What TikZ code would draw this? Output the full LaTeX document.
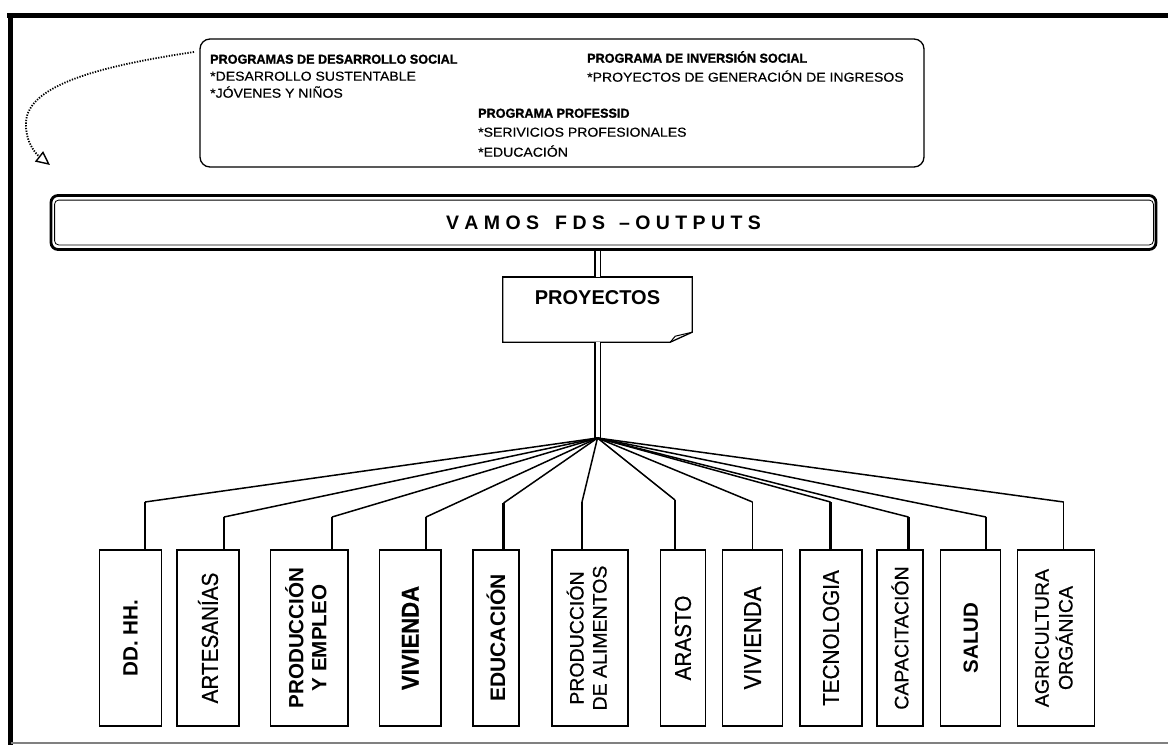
\documentclass[tikz,border=0pt]{standalone}
\usepackage{graphicx}
\usepackage{fontspec}
\setmainfont{Liberation Sans}
\newfontfamily\narrowfont[FakeStretch=0.9,FakeBold=0.6]{Liberation Sans}
\newfontfamily\regfont[FakeBold=0.5]{Liberation Sans}
\newfontfamily\topfont[FakeStretch=1.08,FakeBold=0.4]{Liberation Sans}
\newfontfamily\topbfont[FakeStretch=0.97,FakeBold=1.2]{Liberation Sans}
\usetikzlibrary{arrows.meta,calc}
\newcommand\myfs[1]{\fontsize{#1}{#1}\selectfont}
\newcommand\rotB[2]{\rotatebox{90}{\myfs{#1}\bfseries #2}}
\newcommand\rotN[2]{\rotatebox{90}{\narrowfont\myfs{#1}#2}}
\newcommand\rotNB[2]{\rotatebox{90}{\narrowfont\myfs{#1}\bfseries #2}}
\newcommand\rotR[2]{\rotatebox{90}{\regfont\myfs{#1}#2}}
\newcommand\rotBB[3]{\rotatebox{90}{\fontsize{#1}{23}\selectfont\bfseries\begin{tabular}{@{}c@{}}#2\\#3\end{tabular}}}
\newcommand\rotRR[3]{\rotatebox{90}{\regfont\fontsize{#1}{23}\selectfont\begin{tabular}{@{}c@{}}#2\\#3\end{tabular}}}
\begin{document}
\begin{tikzpicture}[x=1pt,y=-1pt,
  box/.style={draw, line width=1.3pt, inner sep=0pt, minimum height=176pt},
  fan/.style={line width=1.5pt},
  stubthin/.style={line width=1.2pt},
  stubthick/.style={line width=2.4pt},
  dbl/.style={double, double distance=4pt, line width=1.1pt},
  toptxt/.style={anchor=base west, inner sep=0pt, font={\topfont\myfs{13}}},
  topbold/.style={anchor=base west, inner sep=0pt, font={\topbfont\bfseries\myfs{13}}},
]
\useasboundingbox (0,0) rectangle (1168,745);
\fill[white] (0,0) rectangle (1168,745);
% frame
\draw[line width=5.5pt] (7,15.5) -- (1168,15.5);
\draw[line width=5pt] (10.8,13) -- (10.8,745);
\draw[gray, line width=1.5pt] (10.8,743) -- (1168,743);

% top programme box
\node[draw, line width=1.3pt, rounded corners=10pt, minimum width=724pt, minimum height=128pt, inner sep=0pt] (progs) at (562,103) {};
\node[topbold] (t1) at (210,63.7) {PROGRAMAS DE DESARROLLO SOCIAL};
\node[toptxt] (t2) at (210,80.7) {*DESARROLLO SUSTENTABLE};
\node[toptxt] (t3) at (210,97.7) {*JÓVENES Y NIÑOS};
\node[topbold] (t4) at (587,62.7) {PROGRAMA DE INVERSIÓN SOCIAL};
\node[toptxt] (t5) at (587,81.7) {*PROYECTOS DE GENERACIÓN DE INGRESOS};
\node[topbold] (t6) at (478,117.7) {PROGRAMA PROFESSID};
\node[toptxt] (t7) at (478,136.7) {*SERIVICIOS PROFESIONALES};
\node[toptxt] (t8) at (478,156.7) {*EDUCACIÓN};

% dotted arrow
\coordinate (arrs) at (194,52);
\coordinate (arre) at (50,165);
\draw[line width=1.8pt, dash pattern=on 1.3pt off 1.4pt, -{Triangle[open,length=14pt,width=13pt,line width=1.4pt]}]
  (arrs) .. controls (100,66) and (28,85) .. (26,122) .. controls (25,142) and (36,154) .. (arre);

% bar
\node[draw, line width=2.8pt, rounded corners=7pt, minimum width=1105pt, minimum height=54pt, inner sep=0pt, font={\bfseries\myfs{19.5}}] (bar) at (603.5,222.5) {V A M O S\hspace{16pt}F D S\hspace{14pt}– O U T P U T S};
\draw[line width=0.8pt, rounded corners=4pt] ($(bar.north west)+(5,6)$) rectangle ($(bar.south east)+(-4,-6)$);
\draw[line width=3pt] ($(bar.south west)+(8,-1)$) -- ($(bar.south east)+(-8,-1)$);

% proyectos
\node[minimum width=189pt, minimum height=65pt, inner sep=0pt] (proy) at (597.5,309.5) {};
\node[inner sep=0pt, font={\bfseries\myfs{20}}] (proyt) at (597.5,298) {PROYECTOS};
\draw[line width=1.3pt] (proy.north west) -- (proy.north east) -- ($(proy.south east)+(0,-10)$) -- ($(proy.south east)+(-22,0)$) -- (proy.south west) -- cycle;
\draw[line width=1pt] ($(proy.south east)+(0,-10)$) -- ($(proy.south east)+(-17,-6)$) -- ($(proy.south east)+(-22,0)$);
\draw[line width=2pt] (proy.north west) -- (proy.north east);

\coordinate (hub) at (597.5,438);
\draw[dbl] (bar.south -| hub) -- (proy.north -| hub);
\draw[dbl] (proy.south -| hub) -- (hub);

% bottom boxes
\node[box, minimum width=62pt]   (b1)  at (130.5,638) {\rotB{20.7}{DD. HH.}};
\node[box, minimum width=62pt]   (b2)  at (208,638)   {\rotN{23}{ARTESANÍAS}};
\node[box, minimum width=77.4pt] (b3)  at (309.3,638) {\rotBB{20.6}{PRODUCCIÓN}{Y EMPLEO}};
\node[box, minimum width=61.4pt] (b4)  at (410.3,638) {\rotNB{24.5}{VIVIENDA}};
\node[box, minimum width=46pt]   (b5)  at (496,638)   {\rotB{21}{EDUCACIÓN}};
\node[box, minimum width=76pt]   (b6)  at (590,638)   {\rotRR{19.5}{PRODUCCIÓN}{DE ALIMENTOS}};
\node[box, minimum width=45pt]   (b7)  at (683,638)   {\rotN{23}{ARASTO}};
\node[box, minimum width=60pt]   (b8)  at (752.5,638) {\rotN{24.5}{VIVIENDA}};
\node[box, minimum width=62pt]   (b9)  at (831,638)   {\rotN{23}{TECNOLOGIA}};
\node[box, minimum width=46pt]   (b10) at (900,638)   {\rotR{19.5}{CAPACITACIÓN}};
\node[box, minimum width=60pt]   (b11) at (970.7,638) {\rotB{20.5}{SALUD}};
\node[box, minimum width=76.5pt] (b12) at (1056,638)  {\rotRR{19.5}{AGRICULTURA}{ORGÁNICA}};

% stub points
\coordinate (s1) at (145,502);
\coordinate (s2) at (224,517);
\coordinate (s3) at (332,517);
\coordinate (s4) at (426,517);
\coordinate (s5) at (503.6,503);
\coordinate (s6) at (582,502);
\coordinate (s7) at (675,500);
\coordinate (s8) at (752.5,502);
\coordinate (s9) at (830.5,502);
\coordinate (s10) at (908.5,517);
\coordinate (s11) at (986,517);
\coordinate (s12) at (1063.7,502);

\foreach \i in {1,...,12} { \draw[fan] (hub) -- (s\i); }
\draw[stubthin]  (s1) -- (s1 |- b1.north);
\draw[stubthick] (s2) -- (s2 |- b2.north);
\draw[stubthin]  (s3) -- (s3 |- b3.north);
\draw[stubthick] (s4) -- (s4 |- b4.north);
\draw[stubthick] (s5) -- (s5 |- b5.north);
\draw[stubthin]  (s6) -- (s6 |- b6.north);
\draw[stubthin]  (s7) -- (s7 |- b7.north);
\draw[stubthin]  (s8) -- (s8 |- b8.north);
\draw[stubthick] (s9) -- (s9 |- b9.north);
\draw[stubthick] (s10) -- (s10 |- b10.north);
\draw[stubthin]  (s11) -- (s11 |- b11.north);
\draw[stubthin]  (s12) -- (s12 |- b12.north);
\end{tikzpicture}
\end{document}
